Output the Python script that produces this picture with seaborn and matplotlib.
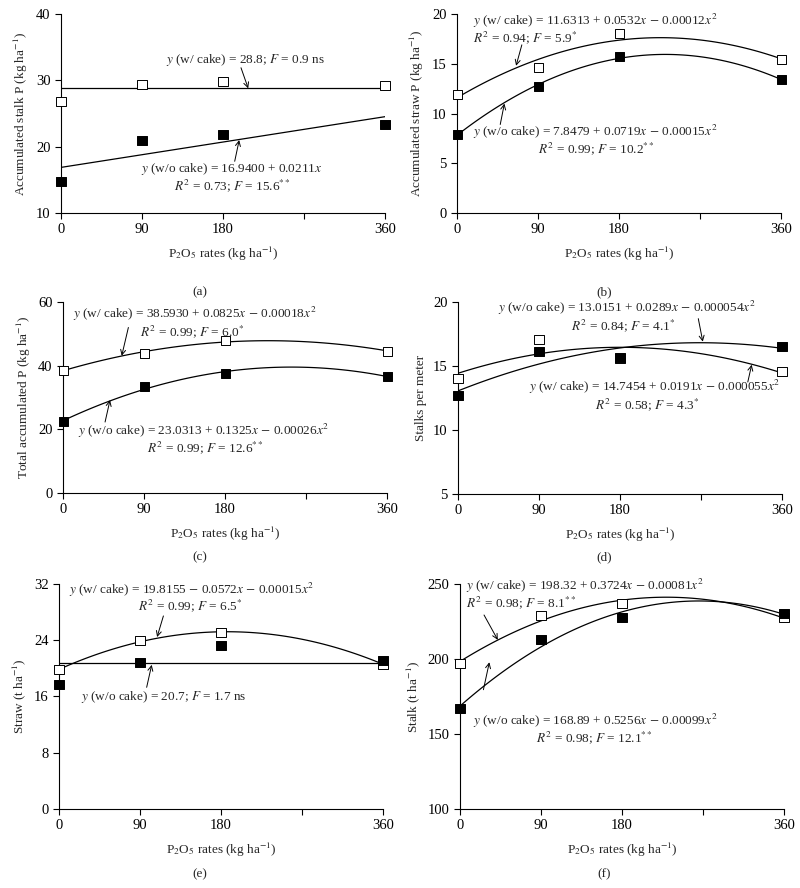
import numpy as np
import pandas as pd
import matplotlib.pyplot as plt
import seaborn as sns

# P2O5 rates (kg/ha)
rates = [0, 90, 180, 360]

# (a) accumulated stalk P
stalk_p_with = [26.8, 29.4, 29.9, 29.3]
stalk_p_without = [14.7, 20.9, 21.9, 23.4]
# (b) accumulated straw P
straw_p_with = [11.9, 14.6, 18.0, 15.4]
straw_p_without = [7.9, 12.7, 15.7, 13.4]
# (c) total accumulated P
total_p_with = [38.6, 43.9, 47.8, 44.6]
total_p_without = [22.4, 33.4, 37.5, 36.7]
# (d) stalks per meter
stalks_m_with = [14.0, 17.1, 15.6, 14.6]
stalks_m_without = [12.7, 16.1, 15.7, 16.5]
# (e) straw
straw_with = [19.8, 23.9, 25.1, 20.6]
straw_without = [17.7, 20.8, 23.3, 21.1]
# (f) stalk
stalk_with = [197.1, 228.7, 236.7, 227.6]
stalk_without = [166.7, 213.1, 227.6, 230.4]

sns.set_style('ticks')
plt.rcParams['font.family'] = ['Liberation Serif', 'DejaVu Serif']
plt.rcParams['mathtext.fontset'] = 'stix'

XLABEL = r'P$_2$O$_5$ rates (kg ha$^{-1}$)'
FS = 9.5

fig = plt.figure(figsize=(8, 8.88), dpi=100)


def panel(rect, y_with, y_without, order_with, order_without, ylim, yticks, ylabel):
    ax = fig.add_axes(rect)
    for y, order in [(y_with, order_with), (y_without, order_without)]:
        if order == 0:
            ax.hlines(np.mean(y), min(rates), max(rates), color='black', lw=0.9)
        else:
            sns.regplot(x=rates, y=y, order=order, ci=None, scatter=False, ax=ax,
                        color='black', line_kws=dict(lw=0.9))
    df = pd.DataFrame({'rate': rates * 2,
                       'value': y_with + y_without,
                       'group': ['with'] * 4 + ['without'] * 4})
    sns.scatterplot(data=df, x='rate', y='value', hue='group',
                    palette={'with': 'white', 'without': 'black'},
                    marker='s', s=42, edgecolor='black', linewidth=0.7,
                    legend=False, ax=ax, zorder=3, clip_on=False)
    ax.set_xlim(0, 360)
    ax.set_ylim(*ylim)
    ax.set_xticks([0, 90, 180, 270, 360])
    ax.set_xticklabels(['0', '90', '180', '', '360'])
    ax.set_yticks(yticks)
    ax.set_xlabel(XLABEL, fontsize=FS, labelpad=6)
    ax.set_ylabel(ylabel, fontsize=FS)
    ax.tick_params(direction='out', length=4, width=0.8, labelsize=10.5, colors='black')
    sns.despine(ax=ax)
    for s in ['left', 'bottom']:
        ax.spines[s].set_linewidth(0.8)
        ax.spines[s].set_color('black')
    return ax


def note(ax, txt, x, y, ha='left'):
    ax.text(x, y, txt, fontsize=FS, ha=ha, va='center')


def arrow(ax, start, tip):
    ax.annotate('', xy=tip, xytext=start,
                arrowprops=dict(arrowstyle='->', lw=0.7, color='black',
                                shrinkA=0, shrinkB=0, mutation_scale=9))


# (a)
ax = panel([0.07625, 0.7601, 0.405, 0.2241], stalk_p_with, stalk_p_without, 0, 1,
           (10, 40), [10, 20, 30, 40], r'Accumulated stalk P (kg ha$^{-1}$)')
note(ax, r'$y$ (w/ cake) = 28.8; $F$ = 0.9 ns', 205, 33.1, ha='center')
arrow(ax, (200, 31.9), (208, 28.8))
note(ax, r'$y$ (w/o cake) = 16.9400 + 0.0211$x$', 190, 16.7, ha='center')
note(ax, r'$R^2$ = 0.73; $F$ = 15.6$^{**}$', 190, 14.1, ha='center')
arrow(ax, (193, 17.8), (198, 21.0))

# (b)
ax = panel([0.5713, 0.7601, 0.405, 0.2241], straw_p_with, straw_p_without, 2, 2,
           (0, 20), [0, 5, 10, 15, 20], r'Accumulated straw P (kg ha$^{-1}$)')
note(ax, r'$y$ (w/ cake) = 11.6313 + 0.0532$x$ $-$ 0.00012$x^2$', 18, 19.35)
note(ax, r'$R^2$ = 0.94; $F$ = 5.9$^{*}$', 18, 17.65)
arrow(ax, (72, 16.9), (65.6, 14.8))
note(ax, r'$y$ (w/o cake) = 7.8479 + 0.0719$x$ $-$ 0.00015$x^2$', 18, 8.15)
note(ax, r'$R^2$ = 0.99; $F$ = 10.2$^{**}$', 90, 6.45)
arrow(ax, (48, 8.9), (52.6, 11.0))

# (c)
ax = panel([0.0788, 0.4448, 0.405, 0.2151], total_p_with, total_p_without, 2, 2,
           (0, 60), [0, 20, 40, 60], r'Total accumulated P (kg ha$^{-1}$)')
note(ax, r'$y$ (w/ cake) = 38.5930 + 0.0825$x$ $-$ 0.00018$x^2$', 11, 56.1)
note(ax, r'$R^2$ = 0.99; $F$ = 6.0$^{*}$', 86, 50.8)
arrow(ax, (72.6, 52.0), (65.2, 43.1))
note(ax, r'$y$ (w/o cake) = 23.0313 + 0.1325$x$ $-$ 0.00026$x^2$', 17, 19.5)
note(ax, r'$R^2$ = 0.99; $F$ = 12.6$^{**}$', 93, 14.2)
arrow(ax, (46.7, 22.3), (52.2, 29.2))

# (d)
ax = panel([0.5725, 0.4437, 0.405, 0.2162], stalks_m_with, stalks_m_without, 2, 2,
           (5, 20), [5, 10, 15, 20], 'Stalks per meter')
note(ax, r'$y$ (w/o cake) = 13.0151 + 0.0289$x$ $-$ 0.000054$x^2$', 45, 19.55)
note(ax, r'$R^2$ = 0.84; $F$ = 4.1$^{*}$', 126, 18.15)
arrow(ax, (267, 18.7), (272, 16.9))
note(ax, r'$y$ (w/ cake) = 14.7454 + 0.0191$x$ $-$ 0.000055$x^2$', 79, 13.35)
note(ax, r'$R^2$ = 0.58; $F$ = 4.3$^{*}$', 152, 11.95)
arrow(ax, (322, 13.75), (326.3, 15.1))

# (e)
ax = panel([0.07375, 0.0890, 0.405, 0.2534], straw_with, straw_without, 2, 0,
           (0, 32), [0, 8, 16, 24, 32], r'Straw (t ha$^{-1}$)')
note(ax, r'$y$ (w/ cake) = 19.8155 $-$ 0.0572$x$ $-$ 0.00015$x^2$', 11, 31.2)
note(ax, r'$R^2$ = 0.99; $F$ = 6.5$^{*}$', 88, 28.9)
arrow(ax, (116, 27.45), (109, 24.45))
note(ax, r'$y$ (w/o cake) = 20.7; $F$ = 1.7 ns', 24, 15.9)
arrow(ax, (97.4, 17.3), (103, 20.5))

# (f)
ax = panel([0.575, 0.0890, 0.405, 0.2534], stalk_with, stalk_without, 2, 2,
           (100, 250), [100, 150, 200, 250], r'Stalk (t ha$^{-1}$)')
note(ax, r'$y$ (w/ cake) = 198.32 + 0.3724$x$ $-$ 0.00081$x^2$', 7, 248.5)
note(ax, r'$R^2$ = 0.98; $F$ = 8.1$^{**}$', 7, 237.5)
arrow(ax, (26.7, 229.3), (42, 212.7))
note(ax, r'$y$ (w/o cake) = 168.89 + 0.5256$x$ $-$ 0.00099$x^2$', 14, 158.5)
note(ax, r'$R^2$ = 0.98; $F$ = 12.1$^{**}$', 85, 147.3)
arrow(ax, (26, 179.5), (32.6, 197.8))

for lab, x, y in [('(a)', 0.25, 0.671), ('(b)', 0.755, 0.671),
                  ('(c)', 0.25, 0.372), ('(d)', 0.755, 0.372),
                  ('(e)', 0.25, 0.016), ('(f)', 0.755, 0.016)]:
    fig.text(x, y, lab, fontsize=FS, ha='center', va='center')

fig.savefig('out.png', dpi=100, facecolor='white')
